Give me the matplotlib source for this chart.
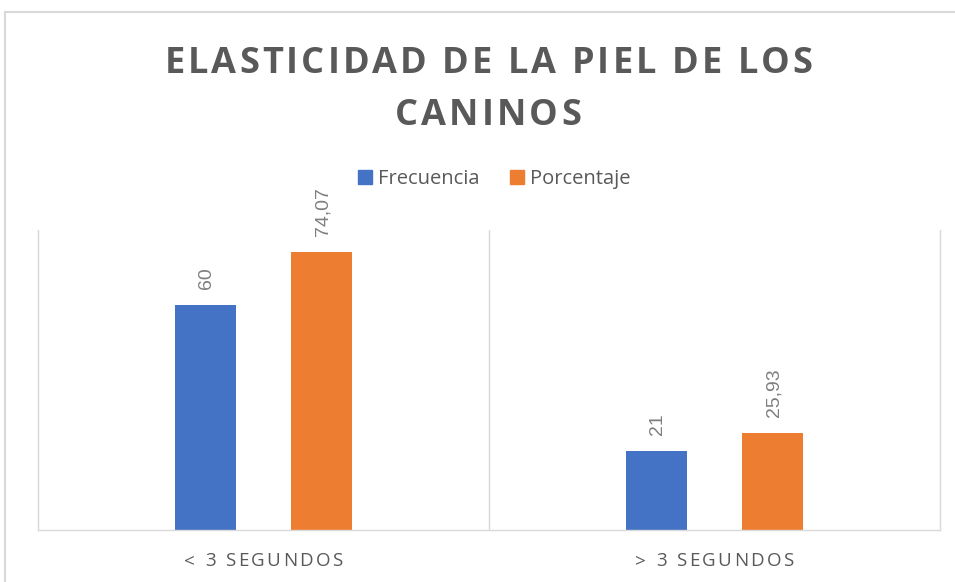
import numpy as np
import matplotlib
matplotlib.use('Agg')
import matplotlib.pyplot as plt
from matplotlib.font_manager import FontProperties
from matplotlib.transforms import offset_copy, blended_transform_factory
from matplotlib.patches import Patch
from matplotlib.lines import Line2D

categories = ['< 3 SEGUNDOS', '> 3 SEGUNDOS']
frecuencia = [60, 21]
porcentaje = [74.07, 25.93]
series_names = ['Frecuencia', 'Porcentaje']
title_lines = ['ELASTICIDAD DE LA PIEL DE LOS', 'CANINOS']

BLUE = '#4472C4'
ORANGE = '#ED7D31'
GRID = '#D9D9D9'
TEXT = '#595959'
LABEL = '#7F7F7F'


def spaced_text(fig, x, y, s, trans, tracking, fp, **kw):
    # draw string char by char with extra letter spacing (pixels)
    r = fig.canvas.get_renderer()

    def w(t):
        return r.get_text_width_height_descent(t + '|', fp, ismath=False)[0] - \
            r.get_text_width_height_descent('|', fp, ismath=False)[0]

    total = w(s) + (len(s) - 1) * tracking
    start = -total / 2
    for i, ch in enumerate(s):
        if ch == ' ':
            continue
        dx = start + w(s[:i]) + i * tracking
        t = offset_copy(trans, fig=fig, x=dx, y=0, units='dots')
        fig.text(x, y, ch, transform=t, fontproperties=fp, ha='left',
                 va='baseline', **kw)


fig = plt.figure(figsize=(9.55, 5.82), dpi=100)
W, H = 955, 582
ax = fig.add_axes([38 / W, 1 - 530 / H, (940 - 38) / W, (530 - 230) / H])

x = np.arange(len(categories))
bw = 0.135
off = 0.129
b1 = ax.bar(x - off, frecuencia, bw, color=BLUE, label=series_names[0])
b2 = ax.bar(x + off, porcentaje, bw, color=ORANGE, label=series_names[1])

lab_kw = dict(family='Liberation Sans', fontsize=14, color=LABEL)
for bars, vals in ((b1, frecuencia), (b2, porcentaje)):
    for rect, v in zip(bars, vals):
        txt = ('%.2f' % v).replace('.', ',') if v != int(v) else str(int(v))
        ax.annotate(txt, (rect.get_x() + rect.get_width() / 2, rect.get_height()),
                    xytext=(1, 16), textcoords='offset pixels', rotation=90,
                    ha='center', va='bottom', **lab_kw)

ax.set_xlim(-0.5, 1.5)
ax.set_ylim(0, 80)
ax.set_xticks([])
ax.set_yticks([])
ax.axvline(0.5, color=GRID, lw=1)
for side in ('left', 'right', 'bottom'):
    ax.spines[side].set_color(GRID)
    ax.spines[side].set_linewidth(1)
ax.spines['top'].set_visible(False)

# category labels, letter spaced
tick_fp = FontProperties(family='Open Sans', size=13.5)
tr = blended_transform_factory(ax.transData, fig.transFigure)
for xi, c in zip(x, categories):
    spaced_text(fig, xi, 1 - 566 / H, c, tr, 2.4, tick_fp, color=TEXT)

# title
title_fp = FontProperties(family='Open Sans', size=26, weight='bold')
spaced_text(fig, 488 / W, 1 - 73 / H, title_lines[0], fig.transFigure, 3.1,
            title_fp, color=TEXT)
spaced_text(fig, 488 / W, 1 - 125 / H, title_lines[1], fig.transFigure, 3.1,
            title_fp, color=TEXT)

# legend
handles = [Patch(color=BLUE), Patch(color=ORANGE)]
fig.legend(handles, series_names, loc='center', bbox_to_anchor=(494 / W, 1 - 179 / H),
           ncol=2, frameon=False, handlelength=0.7, handleheight=0.7,
           handletextpad=0.3, columnspacing=1.5,
           prop=FontProperties(family='Open Sans', size=14.5), labelcolor=TEXT)

# chart area border (left and top visible)
fig.add_artist(Line2D([5 / W, 5 / W], [0, 1 - 12 / H], color=GRID, lw=1.5))
fig.add_artist(Line2D([5 / W, 1], [1 - 12 / H, 1 - 12 / H], color=GRID, lw=1.5))

fig.savefig('out.png', dpi=100, facecolor='white')
